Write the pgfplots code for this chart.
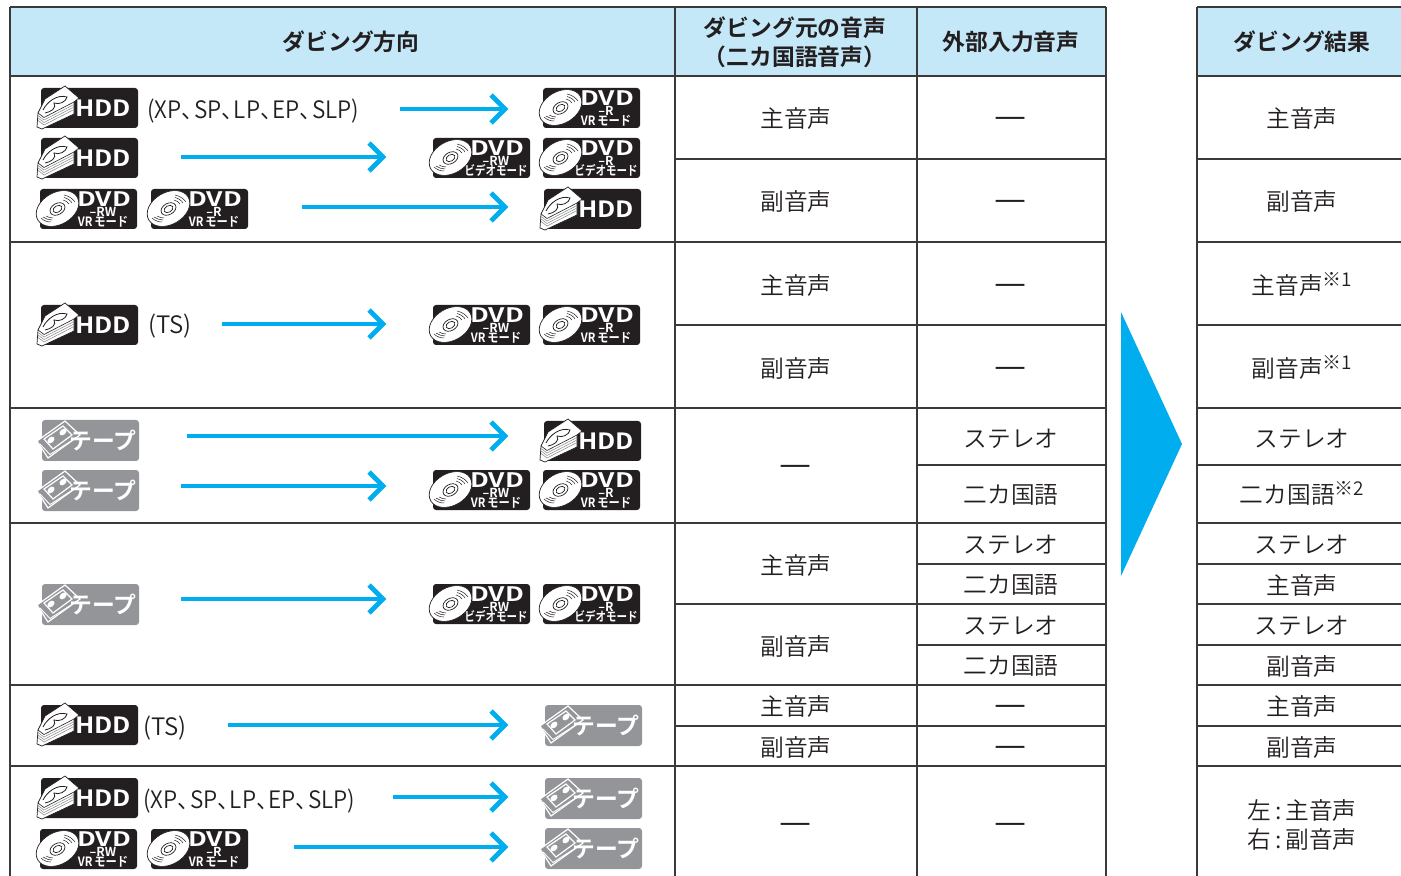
\documentclass[border=0pt]{standalone}
\usepackage{fontspec}
\usepackage{graphicx}
\usepackage{pgfplots}
\pgfplotsset{compat=1.18}
\setmainfont{Noto Sans CJK JP DemiLight}[BoldFont=Noto Sans CJK JP Bold]
\definecolor{hdr}{HTML}{C5E8F8}
\definecolor{gridc}{HTML}{3A3A3A}
\definecolor{blu}{HTML}{00AEEF}
\definecolor{blk}{HTML}{231F20}
\definecolor{gry}{HTML}{939598}
\newcommand\fs[1]{\fontsize{#1}{#1}\selectfont}
\newcommand\hl[3]{\addplot[gridc,line width=.65pt] coordinates {(#1,#3)(#2,#3)};}
\newcommand\vl[3]{\addplot[gridc,line width=.65pt] coordinates {(#1,#2)(#1,#3)};}
\newcommand\fullhl[1]{\hl{10}{1106}{#1}\hl{1197}{1401}{#1}}
\newcommand\parthl[1]{\hl{675}{1106}{#1}\hl{1197}{1401}{#1}}
\newcommand\narrowhl[1]{\hl{917}{1106}{#1}\hl{1197}{1401}{#1}}
\newcommand\txt[3]{\node[font=\fs{11.85},text=blk,inner sep=0pt,anchor=center,yshift=-.7pt] at (axis cs:#1,#2) {#3};}
\newcommand\hd[3]{\node[font=\fs{11.4}\bfseries,text=blk,inner sep=0pt,anchor=center,yshift=-.5pt] at (axis cs:#1,#2) {#3};}
\newcommand\dash[2]{\node[font=\fs{18},text=blk,inner sep=0pt,anchor=center,yshift=-2.8pt] at (axis cs:#1,#2) {—};}
\newcommand\sups[1]{\smash{\raisebox{.35em}{\fs{9.5}#1}}}
\newcommand\modes{\scalebox{.94}[1]{(XP、\hspace{-.45em}SP、\hspace{-.45em}LP、\hspace{-.45em}EP、\hspace{-.45em}SLP)}}
% icons: origin is top-left of the rounded rectangle, units are px
\newcommand\hdd[2]{\begin{scope}[shift={(axis direction cs:#1,#2)}]
 \fill[blk,rounded corners=1.5pt] (0,0) rectangle (97,40);
 \filldraw[fill=white,draw=blk,line width=.35pt] (-4,39) -- (-3,25) -- (4,11) -- (24,-2) -- (38,10) -- (33,14) -- (33,26) -- (1,41) -- cycle;
 \draw[blk,line width=.3pt] (-3,25) -- (3,29.5) -- (33,14);
 \draw[gry,line width=.3pt] (-3,27.5) -- (3,32) -- (33,16.5);
 \draw[gry,line width=.3pt] (-3,30) -- (3,34.5) -- (33,19);
 \draw[gry,line width=.3pt] (-3,32.5) -- (3,37) -- (33,21.5);
 \draw[blk,line width=.4pt] (2,22) .. controls (6,14) and (16,6) .. (26,9) .. controls (25,14) and (18,17) .. (13,15) .. controls (16,20) and (10,24) .. (4,25);
 \node[font=\fs{11.2}\bfseries,text=white,inner sep=0pt] at (62,20.5) {\scalebox{1.14}[1]{HDD}};
\end{scope}}
\newcommand\discshape{%
 \filldraw[fill=white,draw=blk,line width=.35pt] (17.5,19.5) circle [x radius=11.4pt,y radius=8pt,rotate=30];
 \draw[blk,line width=.35pt] (17.5,20) circle [x radius=4pt,y radius=2.8pt,rotate=30];
 \draw[blk,line width=.35pt] (17.5,20) circle [x radius=2.4pt,y radius=1.6pt,rotate=30];
 \draw[blk,line width=.25pt] (24,6) .. controls (29,7) and (33,10) .. (35,13);
 \draw[blk,line width=.25pt] (24,8.5) .. controls (28,9.5) and (31,12) .. (32,14);
 \draw[blk,line width=.25pt] (23,11) .. controls (26,12) and (28,13) .. (29,15);
 \draw[blk,line width=.25pt] (1,29) .. controls (4,32) and (8,33) .. (11,33);
 \draw[blk,line width=.25pt] (3,28) .. controls (6,30) and (9,31) .. (12,31);
 \draw[blk,line width=.25pt] (6,27) .. controls (8,28) and (10,29) .. (13,29);
}
\newcommand\dvd[4]{\begin{scope}[shift={(axis direction cs:#1,#2)}]
 \fill[blk,rounded corners=1.5pt] (0,0) rectangle (97,40);
 \discshape
 \node[font=\fs{10}\bfseries,text=white,inner sep=0pt] at (64,10.5) {\scalebox{1.32}[1]{DVD}};
 \node[font=\fs{6.2}\bfseries,text=white,inner sep=0pt] at (63,23) {#3};
 \node[font=\fs{6.4}\bfseries,text=white,inner sep=0pt] at (63,32.5) {#4};
\end{scope}}
\newcommand\VR{\scalebox{.88}[1]{VR\,モード}}
\newcommand\VID{\scalebox{.82}[1]{ビデオモード}}
\newcommand\tape[2]{\begin{scope}[shift={(axis direction cs:#1,#2)}]
 \fill[gry,rounded corners=1.5pt] (0,0) rectangle (97,41);
 \filldraw[fill=gry,draw=white,line width=.6pt] (-5,21) -- (23,1) -- (38,15) -- (6,38) -- cycle;
 \draw[white,line width=.45pt] (-2,24) -- (8,34.5) -- (36,16.5);
 \draw[white,line width=.6pt] (2,19) -- (21,6) -- (30,15) -- (11,29) -- cycle;
 \fill[white] (9,20) circle [x radius=2pt,y radius=1.4pt,rotate=40];
 \fill[white] (21,12) circle [x radius=2pt,y radius=1.4pt,rotate=40];
 \node[font=\fs{11.4}\bfseries,text=white,inner sep=0pt] at (61,21) {テープ};
\end{scope}}
\begin{document}
\begin{tikzpicture}
\begin{axis}[scale only axis,width=700.5pt,height=438pt,xmin=0,xmax=1401,ymin=0,ymax=876,y dir=reverse,hide axis,no marks]
\path (axis cs:0,0) rectangle (axis cs:1401,876);
% fills
\addplot[fill=hdr,draw=none] coordinates {(10,7)(1106,7)(1106,76)(10,76)(10,7)};
\addplot[fill=hdr,draw=none] coordinates {(1197,7)(1401,7)(1401,76)(1197,76)(1197,7)};
\addplot[fill=blu,draw=none] coordinates {(1121,312)(1182,444)(1121,576)(1121,312)};
% rules
\fullhl{7}\fullhl{76}\fullhl{242}\fullhl{408}\fullhl{523}\fullhl{685}\fullhl{766}
\parthl{159}\parthl{325}\parthl{604}\parthl{726}
\narrowhl{465}\narrowhl{564}\narrowhl{645}
\vl{10}{7}{876}\vl{675}{7}{876}\vl{917}{7}{876}\vl{1106}{7}{876}\vl{1197}{7}{876}
% arrows
\pgfplotsset{arr/.style={blu,line width=2.4pt},chev/.style={blu,line width=2.4pt,line join=miter}}
\addplot[arr] coordinates {(400,109)(505,109)};\addplot[chev] coordinates {(491,95)(505,109)(491,123)};
\addplot[arr] coordinates {(181,157)(383,157)};\addplot[chev] coordinates {(369,143)(383,157)(369,171)};
\addplot[arr] coordinates {(302,207)(505,207)};\addplot[chev] coordinates {(491,193)(505,207)(491,221)};
\addplot[arr] coordinates {(222,324)(383,324)};\addplot[chev] coordinates {(369,310)(383,324)(369,338)};
\addplot[arr] coordinates {(187,436)(505,436)};\addplot[chev] coordinates {(491,422)(505,436)(491,450)};
\addplot[arr] coordinates {(181,486)(383,486)};\addplot[chev] coordinates {(369,472)(383,486)(369,500)};
\addplot[arr] coordinates {(181,599)(383,599)};\addplot[chev] coordinates {(369,585)(383,599)(369,613)};
\addplot[arr] coordinates {(228,725)(505,725)};\addplot[chev] coordinates {(491,711)(505,725)(491,739)};
\addplot[arr] coordinates {(393,797)(505,797)};\addplot[chev] coordinates {(491,783)(505,797)(491,811)};
\addplot[arr] coordinates {(294,847)(505,847)};\addplot[chev] coordinates {(491,833)(505,847)(491,861)};
% header
\hd{351}{41}{ダビング方向}
\hd{795}{27}{ダビング元の音声}
\hd{795}{56}{（二カ国語音声）}
\hd{1011}{41}{外部入力音声}
\hd{1302}{41}{ダビング結果}
% column 2
\txt{796}{117}{主音声}\txt{796}{200}{副音声}\txt{796}{284}{主音声}\txt{796}{367}{副音声}
\dash{796}{465}
\txt{796}{564}{主音声}\txt{796}{645}{副音声}\txt{796}{705}{主音声}\txt{796}{746}{副音声}
\dash{796}{823}
% column 3
\dash{1011}{117}\dash{1011}{200}\dash{1011}{284}\dash{1011}{367}
\txt{1011}{437}{ステレオ}\txt{1011}{494}{二カ国語}\txt{1011}{543}{ステレオ}\txt{1011}{584}{二カ国語}
\txt{1011}{624}{ステレオ}\txt{1011}{665}{二カ国語}
\dash{1011}{705}\dash{1011}{746}\dash{1011}{823}
% column 4
\txt{1302}{117}{主音声}\txt{1302}{200}{副音声}
\txt{1302}{284}{主音声\sups{※1}}\txt{1302}{367}{副音声\sups{※1}}
\txt{1302}{437}{ステレオ}\txt{1302}{494}{二カ国語\sups{※2}}
\txt{1302}{543}{ステレオ}\txt{1302}{584}{主音声}\txt{1302}{624}{ステレオ}\txt{1302}{665}{副音声}
\txt{1302}{705}{主音声}\txt{1302}{746}{副音声}
\txt{1302}{809}{左\hspace{.17em}:\hspace{.17em}主音声}\txt{1302}{838}{右\hspace{.17em}:\hspace{.17em}副音声}
% source labels
\node[font=\fs{12},text=blk,inner sep=0pt,anchor=west] at (axis cs:147,111) {\modes};
\node[font=\fs{12},text=blk,inner sep=0pt,anchor=west] at (axis cs:143,801) {\modes};
\node[font=\fs{12},text=blk,inner sep=0pt,anchor=west] at (axis cs:148,326) {(TS)};
\node[font=\fs{12},text=blk,inner sep=0pt,anchor=west] at (axis cs:143,728) {(TS)};
% icons
\hdd{41}{88}\hdd{41}{138}\hdd{544}{189}\hdd{41}{305}\hdd{544}{421}\hdd{41}{705}\hdd{41}{778}
\dvd{543}{88}{--R}{\VR}
\dvd{433}{138}{--RW}{\VID}\dvd{543}{138}{--R}{\VID}
\dvd{40}{189}{--RW}{\VR}\dvd{151}{189}{--R}{\VR}
\dvd{433}{305}{--RW}{\VR}\dvd{543}{305}{--R}{\VR}
\dvd{433}{470}{--RW}{\VR}\dvd{543}{470}{--R}{\VR}
\dvd{433}{584}{--RW}{\VID}\dvd{543}{584}{--R}{\VID}
\dvd{40}{829}{--RW}{\VR}\dvd{151}{829}{--R}{\VR}
\tape{42}{420}\tape{42}{470}\tape{42}{584}\tape{545}{705}\tape{545}{778}\tape{545}{828}
\end{axis}
\end{tikzpicture}
\end{document}
